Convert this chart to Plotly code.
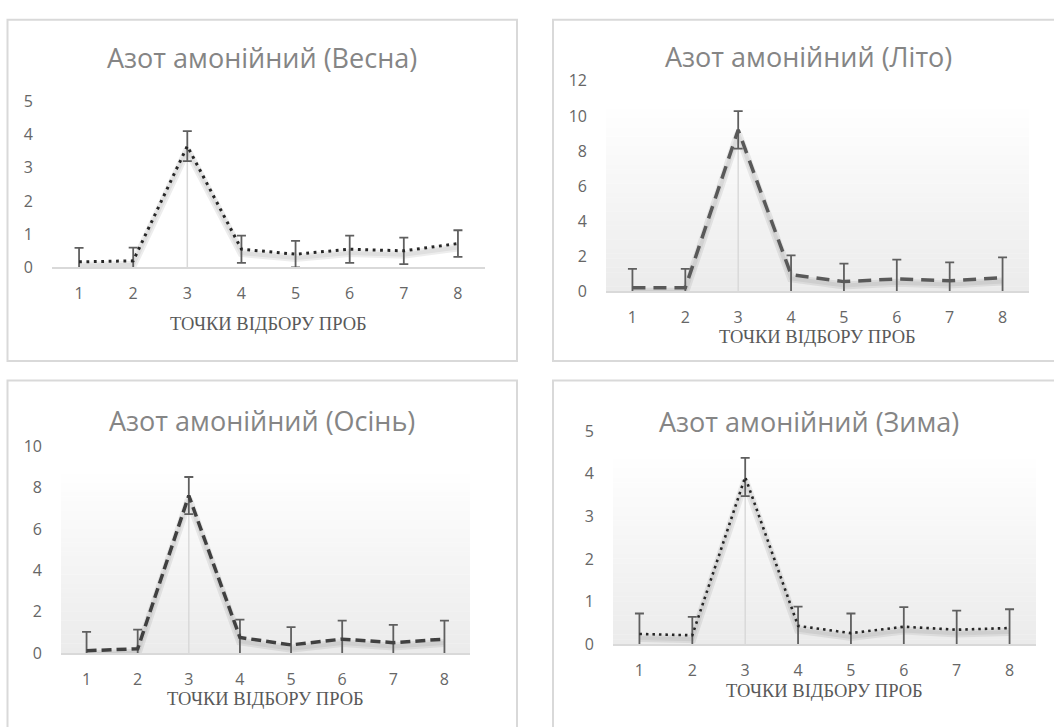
import plotly.graph_objects as go

# ---------------- data ----------------
categories = [1, 2, 3, 4, 5, 6, 7, 8]

spring_values = [0.17, 0.20, 3.65, 0.55, 0.40, 0.55, 0.50, 0.72]
spring_errors = [0.42, 0.40, 0.45, 0.41, 0.40, 0.41, 0.40, 0.40]

summer_values = [0.20, 0.20, 9.20, 0.95, 0.55, 0.70, 0.60, 0.78]
summer_errors = [1.08, 1.08, 1.07, 1.10, 1.03, 1.10, 1.05, 1.15]

autumn_values = [0.11, 0.20, 7.62, 0.75, 0.39, 0.67, 0.50, 0.67]
autumn_errors = [0.91, 0.93, 0.90, 0.86, 0.86, 0.90, 0.86, 0.90]

winter_values = [0.24, 0.21, 3.92, 0.43, 0.26, 0.41, 0.34, 0.38]
winter_errors = [0.48, 0.43, 0.45, 0.45, 0.46, 0.46, 0.45, 0.44]

titles = ["Азот амонійний (Весна)", "Азот амонійний (Літо)",
          "Азот амонійний (Осінь)", "Азот амонійний (Зима)"]
x_title = "ТОЧКИ ВІДБОРУ ПРОБ"
y_max = [5, 12, 10, 5]
y_step = [1, 2, 2, 1]

# ---------------- layout geometry (pixels) ----------------
W, H = 1054, 727
panels = [
    dict(vals=spring_values, errs=spring_errors, plot=(52, 485, 93, 264.5),
         border=(7.5, 517, 9, 361), title_y=48, xt_y=322, grad=False,
         color="#262626", dash="2.8px,4.6px", width=3),
    dict(vals=summer_values, errs=summer_errors, plot=(606, 1029, 72, 289),
         border=(553, 1064, 9, 361), title_y=47, xt_y=335, grad=True,
         color="#595959", dash="13px,8px", width=3.5),
    dict(vals=autumn_values, errs=autumn_errors, plot=(61, 470, 449, 662),
         border=(7.5, 517, 381, 740), title_y=422, xt_y=708, grad=True,
         color="#404040", dash="10px,5px", width=3.5),
    dict(vals=winter_values, errs=winter_errors, plot=(613, 1036, 433, 653),
         border=(553, 1064, 381, 740), title_y=423, xt_y=700, grad=True,
         color="#262626", dash="2.5px,4px", width=2.6),
]


def fx(x):
    return x / W


def fy(y):
    return 1 - y / H


fig = go.Figure()
shapes = []
annotations = []
layout_axes = {}
tick_font = dict(family="Open Sans", size=16, color="#666666")

for i, p in enumerate(panels):
    n = i + 1
    x0, x1, yt, yb = p["plot"]
    xd = [fx(x0), fx(x1)]
    yd = [fy(yb), fy(yt)]
    ymax = y_max[i]
    per_px = ymax / (yb - yt)
    shift = 4 * per_px  # shadow offset of ~4 px

    base = "" if n == 1 else str(n)
    ov = str(n + 4)

    layout_axes["xaxis" + base] = dict(
        domain=xd, anchor="y" + base, range=[0.5, 8.5],
        tickvals=categories, ticktext=[str(c) for c in categories],
        showgrid=False, zeroline=False, showline=True, linecolor="#d9d9d9",
        linewidth=1.5, ticks="", ticklabelstandoff=11,
        tickfont=tick_font, fixedrange=True,
    )
    layout_axes["yaxis" + base] = dict(
        domain=yd, anchor="x" + base, range=[0 + shift, ymax + shift],
        visible=False, fixedrange=True,
    )
    layout_axes["yaxis" + ov] = dict(
        domain=yd, anchor="x" + base, overlaying="y" + base,
        range=[0, ymax], dtick=y_step[i], tick0=0,
        showgrid=False, zeroline=False, showline=False, ticks="",
        ticklabelstandoff=18, tickfont=tick_font, fixedrange=True,
    )

    # soft shadow under the series (drawn on a slightly shifted scale)
    fig.add_trace(go.Scatter(
        x=categories, y=p["vals"], xaxis="x" + base, yaxis="y" + base,
        mode="lines", line=dict(color="rgba(0,0,0,0.07)", width=8),
        hoverinfo="skip", showlegend=False))
    fig.add_trace(go.Scatter(
        x=categories, y=p["vals"], xaxis="x" + base, yaxis="y" + base,
        mode="lines", line=dict(color="rgba(0,0,0,0.06)", width=4),
        hoverinfo="skip", showlegend=False))

    # faint vertical drop line at the peak category
    k = 2
    fig.add_trace(go.Scatter(
        x=[categories[k], categories[k]], y=[0, p["vals"][k]],
        xaxis="x" + base, yaxis="y" + ov, mode="lines",
        line=dict(color="#d9d9d9", width=1.5),
        hoverinfo="skip", showlegend=False))

    # main series with error bars
    fig.add_trace(go.Scatter(
        x=categories, y=p["vals"], xaxis="x" + base, yaxis="y" + ov,
        mode="lines",
        line=dict(color=p["color"], width=p["width"], dash=p["dash"]),
        error_y=dict(type="data", array=p["errs"], visible=True,
                     color="#5f5f5f", thickness=1.8, width=4.5),
        showlegend=False, name=titles[i]))

    # gradient plot-area fill
    if p["grad"]:
        nstrip = 40
        gtop = 0.89
        for s in range(nstrip):
            f0 = s / nstrip * gtop
            f1 = (s + 1) / nstrip * gtop
            t = 1 - (s + 0.5) / nstrip
            c = int(round(255 - 20 * t))
            shapes.append(dict(
                type="rect", xref="paper", yref="paper",
                x0=xd[0], x1=xd[1],
                y0=yd[0] + f0 * (yd[1] - yd[0]),
                y1=yd[0] + f1 * (yd[1] - yd[0]) + 0.0005,
                fillcolor=f"rgb({c},{c},{c})", line=dict(width=0),
                layer="below"))

    # panel border
    bx0, bx1, by0, by1 = p["border"]
    shapes.append(dict(type="rect", xref="paper", yref="paper",
                       x0=fx(bx0), x1=fx(bx1), y0=fy(by1), y1=fy(by0),
                       line=dict(color="#d9d9d9", width=2), layer="below"))

    # chart title
    annotations.append(dict(
        text=titles[i], xref="paper", yref="paper",
        x=fx((bx0 + bx1) / 2), y=fy(p["title_y"]),
        xanchor="center", yanchor="middle", showarrow=False,
        font=dict(family="Open Sans", size=27, color="#858585")))
    # x axis title
    annotations.append(dict(
        text=x_title, xref="paper", yref="paper",
        x=fx((x0 + x1) / 2), y=fy(p["xt_y"] + 1),
        xanchor="center", yanchor="middle", showarrow=False,
        font=dict(family="Liberation Serif", size=18.5, color="#595959")))

fig.update_layout(
    width=W, height=H, margin=dict(l=0, r=0, t=0, b=0),
    paper_bgcolor="white", plot_bgcolor="rgba(0,0,0,0)",
    shapes=shapes, annotations=annotations, showlegend=False,
    **layout_axes,
)

fig.write_html(
    "out.html",
    config={"displayModeBar": False},
    post_script="document.body.style.margin='0';document.body.style.padding='0';"
                "document.body.style.overflow='hidden';",
)
